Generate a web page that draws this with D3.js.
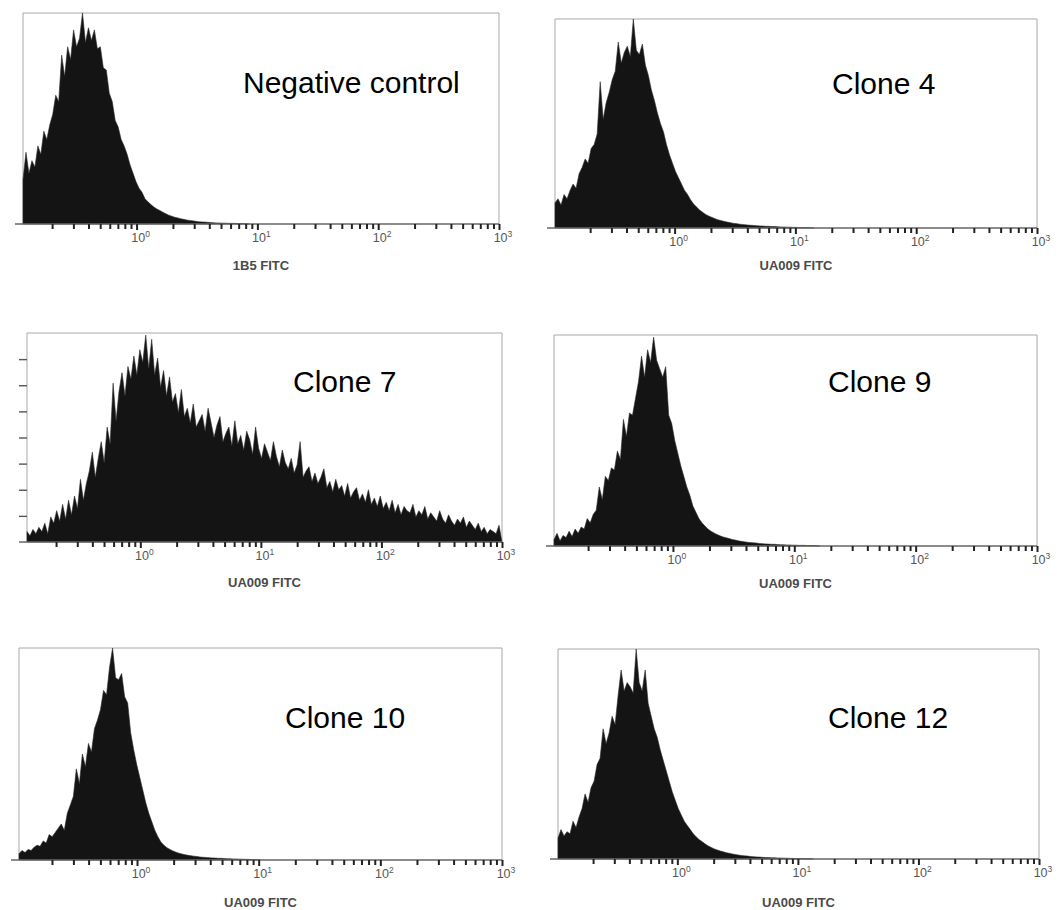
<!DOCTYPE html>
<html>
<head>
<meta charset="utf-8">
<script src="https://cdn.jsdelivr.net/npm/d3@7"></script>
<style>
  html, body { margin: 0; padding: 0; background: #fff; }
  svg { display: block; }
</style>
</head>
<body>
<svg id="chart" width="1061" height="910"></svg>
<script>
// ---- Data -------------------------------------------------------------
// Sample names and fluorescence axis titles, one per panel
const sampleNames = ["Negative control", "Clone 4", "Clone 7", "Clone 9", "Clone 10", "Clone 12"];
const axisTitles = ["1B5 FITC", "UA009 FITC", "UA009 FITC", "UA009 FITC", "UA009 FITC", "UA009 FITC"];

// Log axis: decade ticks and their exponent labels
const decadeTicks = [1, 10, 100, 1000];
const decadeExponents = ["0", "1", "2", "3"];
// Lower end of each panel's log axis (log10 units); every axis ends at 10^3
const axisLogMin = [-0.94, -0.99, -0.94, -0.98, -0.97, -0.99];

// Acquisition channels spread evenly over each log axis;
// counts are % of panel full scale, channels not listed are empty
const channelCount = 160;

const negativeControl = [
  21, 34, 24, 30, 27, 37, 33, 44, 40, 47, 52, 61, 58, 80, 70, 84,
  78, 92, 84, 88, 100, 86, 93, 87, 92, 83, 84, 74, 73, 62, 58, 49,
  46, 40, 37, 33, 28, 24, 20, 17, 15, 12, 10.5, 9.2, 8, 7.1, 6.4, 5.6,
  4.9, 4.2, 3.7, 3.2, 2.9, 2.5, 2.2, 1.9, 1.7, 1.5, 1.3, 1.1, 1.0, 0.9,
  0.8, 0.7, 0.6, 0.5, 0.5, 0.4, 0.4, 0.3, 0.3, 0.3, 0.2, 0.2, 0.2, 0.1
];

const clone4 = [
  12, 14, 11, 16, 14, 18, 21, 19, 26, 29, 33, 31, 38, 40, 45, 70,
  52, 60, 65, 71, 75, 89, 79, 84, 87, 82, 100, 85, 83, 88, 78, 73,
  66, 61, 55, 50, 46, 40, 35, 31, 27, 24, 21, 18, 16, 13.5, 11.5, 10,
  8.6, 7.5, 6.5, 5.8, 5.1, 4.5, 4, 3.6, 3.2, 2.9, 2.6, 2.3, 2.1, 1.9,
  1.7, 1.6, 1.4, 1.3, 1.2, 1.1, 1.0, 0.9, 0.8, 0.8, 0.7, 0.7, 0.6, 0.5,
  0.5, 0.4, 0.4, 0.3, 0.3, 0.2, 0.2, 0.2, 0.1, 0.1
];

const clone7 = [
  5, 3, 6, 4, 7, 5, 9, 4,
  12, 9, 15, 10, 18, 11, 20, 13, 22,
  16, 30, 20, 28, 34, 43, 31, 40,
  48, 38, 55, 47, 76, 58, 72, 81,
  70, 84, 78, 89, 80, 92, 86, 99,
  83, 97, 80, 88, 74, 82, 70, 79,
  67, 71, 62, 73, 60, 64, 57, 66,
  55, 58, 61, 53, 64, 57, 50, 56,
  60, 48, 52, 55, 46, 58, 47, 51,
  44, 53, 49, 42, 55, 45, 40, 47,
  43, 39, 48, 41, 36, 44, 38, 35,
  40, 33, 37, 48, 31, 34, 36, 29,
  33, 28, 31, 35, 26, 29, 24, 30,
  25, 27, 22, 28, 21, 24, 26, 20,
  23, 19, 25, 18, 21, 17, 22, 16,
  19, 15, 20, 14, 18, 13, 17, 15,
  14, 18, 12, 15, 13, 17, 11, 14,
  12, 10, 15, 11, 9, 13, 10, 8,
  11, 9, 12, 7, 10, 8, 6, 9,
  5, 7, 4, 6, 5, 4, 8
];

const clone9 = [
  3, 6, 2.5, 5, 4, 7, 4.5, 8,
  6, 9, 8, 13, 11, 15, 17, 28,
  22, 33, 31, 37, 36, 45, 41, 60,
  52, 63, 62, 70, 78, 90, 80, 93,
  87, 99, 88, 84, 80, 85, 62, 58,
  50, 44, 38, 33, 28, 24, 19, 16,
  13, 11, 9.5, 8, 7, 6.2, 5.4, 4.8,
  4.3, 3.9, 3.5, 3.1, 2.8, 2.5, 2.2, 2,
  1.8, 1.6, 1.5, 1.4, 1.2, 1.1, 1, 0.9,
  0.8, 0.8, 0.7, 0.6, 0.6, 0.5, 0.5, 0.4,
  0.4, 0.3, 0.3, 0.3, 0.2, 0.2, 0.2, 0.1
];

const clone10 = [
  3, 4.5, 3.5, 5, 4.5, 6, 7, 6.5,
  9, 8, 12, 11, 13, 15, 17, 14,
  22, 26, 30, 43, 36, 50, 44, 55,
  51, 62, 66, 71, 80, 78, 91, 100,
  86, 85, 88, 77, 74, 60, 52, 45,
  39, 33, 27, 22, 18, 14, 11, 8.5,
  7, 5.8, 5, 4.3, 3.7, 3.2, 2.8, 2.5,
  2.2, 2, 1.8, 1.6, 1.4, 1.3, 1.2, 1.1,
  1, 0.9, 0.8, 0.8, 0.7, 0.6, 0.6, 0.5,
  0.5, 0.4, 0.4, 0.3, 0.3, 0.2, 0.2, 0.1
];

const clone12 = [
  10, 14, 11, 13, 12, 18, 15, 20,
  24, 31, 27, 34, 37, 45, 48, 62,
  55, 60, 68, 64, 78, 90, 80, 84,
  82, 79, 100, 84, 80, 90, 74, 68,
  62, 58, 52, 47, 42, 37, 32, 28,
  24, 21, 18, 16, 14, 12, 10.5, 9.2,
  8.2, 7.1, 6.2, 5.5, 4.8, 4.3, 3.8, 3.4,
  3, 2.7, 2.4, 2.1, 1.9, 1.7, 1.5, 1.4,
  1.2, 1.1, 1, 0.9, 0.8, 0.7, 0.7, 0.6,
  0.6, 0.5, 0.5, 0.4, 0.4, 0.3, 0.3, 0.2,
  0.2, 0.2, 0.1, 0.1, 0.1
];

const histograms = [negativeControl, clone4, clone7, clone9, clone10, clone12];

// Count-axis ticks, shown on the Clone 7 panel only
const clone7YTicks = [12.5, 25, 37.5, 50, 62.5, 75, 87.5];

// ---- Layout -----------------------------------------------------------
const frames = [
  { left: 23,  right: 499,  top: 13,  bottom: 224, labelDx: 220, labelDy: 80, titleDy: 46 },
  { left: 555, right: 1037, top: 19,  bottom: 228, labelDx: 277, labelDy: 75, titleDy: 42 },
  { left: 27,  right: 502,  top: 333, bottom: 542, labelDx: 266, labelDy: 59, titleDy: 45 },
  { left: 554, right: 1037, top: 335, bottom: 546, labelDx: 274, labelDy: 57, titleDy: 42 },
  { left: 19,  right: 502,  top: 648, bottom: 860, labelDx: 266, labelDy: 80, titleDy: 47 },
  { left: 558, right: 1039, top: 649, bottom: 859, labelDx: 270, labelDy: 79, titleDy: 48 }
];

const FONT = "'Liberation Sans', Arial, Helvetica, sans-serif";
const svg = d3.select("#chart");

frames.forEach((f, p) => {
  const logMin = axisLogMin[p];
  const values = histograms[p];
  const g = svg.append("g").attr("class", "panel");

  const x = d3.scaleLog().domain([Math.pow(10, logMin), 1000]).range([f.left, f.right]);
  const y = d3.scaleLinear().domain([0, 100]).range([f.bottom, f.top]);

  // channel i sits at the i-th even step along the log axis
  const channelPos = i => Math.pow(10, logMin + i * (3 - logMin) / channelCount);
  const pts = values.map((v, i) => ({ c: channelPos(i), v }));
  pts.push({ c: channelPos(values.length), v: 0 });

  // plot frame (top, left, right)
  g.append("path")
    .attr("d", `M${f.left},${f.bottom}V${f.top}H${f.right}V${f.bottom}`)
    .attr("fill", "none")
    .attr("stroke", "#a8a8a8")
    .attr("stroke-width", 1);

  // histogram
  const area = d3.area()
    .x(d => x(d.c))
    .y0(y(0))
    .y1(d => y(d.v))
    .curve(d3.curveLinear);

  g.append("path")
    .datum(pts)
    .attr("d", area)
    .attr("fill", "#141414")
    .attr("stroke", "#2a2a2a")
    .attr("stroke-width", 0.6)
    .attr("stroke-linejoin", "miter");

  // baseline
  g.append("line")
    .attr("x1", f.left - 8).attr("x2", f.right)
    .attr("y1", f.bottom).attr("y2", f.bottom)
    .attr("stroke", "#666").attr("stroke-width", 1.3);

  // minor ticks (2..9 within each decade)
  const minor = [];
  [0.1, 1, 10, 100].forEach(d => d3.range(2, 10).forEach(m => {
    const v = m * d;
    if (v > Math.pow(10, logMin) && v < 1000) minor.push(v);
  }));
  const axisG = g.append("g").attr("transform", `translate(0,${f.bottom})`);
  axisG.call(d3.axisBottom(x).tickValues(minor).tickSize(5).tickFormat(""));
  axisG.append("g")
    .call(d3.axisBottom(x).tickValues(decadeTicks).tickSize(6).tickFormat(""));
  axisG.selectAll(".domain").remove();
  axisG.selectAll(".tick line").attr("stroke", "#222").attr("stroke-width", 2);

  // decade labels 10^n
  decadeTicks.forEach((t, k) => {
    const txt = g.append("text")
      .attr("x", x(t) + 4)
      .attr("y", f.bottom + 18)
      .attr("text-anchor", "middle")
      .attr("font-family", FONT)
      .attr("font-size", 12.5)
      .attr("fill", "#555");
    txt.append("tspan").text("10");
    txt.append("tspan").attr("dy", -5).attr("font-size", 8.5).text(decadeExponents[k]);
  });

  // axis title
  g.append("text")
    .attr("x", (f.left + f.right) / 2)
    .attr("y", f.bottom + f.titleDy)
    .attr("text-anchor", "middle")
    .attr("font-family", FONT)
    .attr("font-weight", "bold")
    .attr("font-size", 13)
    .attr("fill", "#4a4a4a")
    .text(axisTitles[p]);

  // sample name
  g.append("text")
    .attr("x", f.left + f.labelDx)
    .attr("y", f.top + f.labelDy)
    .attr("font-family", FONT)
    .attr("font-size", 30)
    .attr("fill", "#000")
    .text(sampleNames[p]);

  // count ticks on the Clone 7 panel
  if (sampleNames[p] === "Clone 7") {
    const yAxis = g.append("g").attr("transform", `translate(${f.left},0)`)
      .call(d3.axisLeft(y).tickValues(clone7YTicks).tickSize(8).tickFormat(""));
    yAxis.selectAll(".domain").remove();
    yAxis.selectAll(".tick line").attr("stroke", "#555").attr("stroke-width", 1.4);
  }
});
</script>
</body>
</html>
